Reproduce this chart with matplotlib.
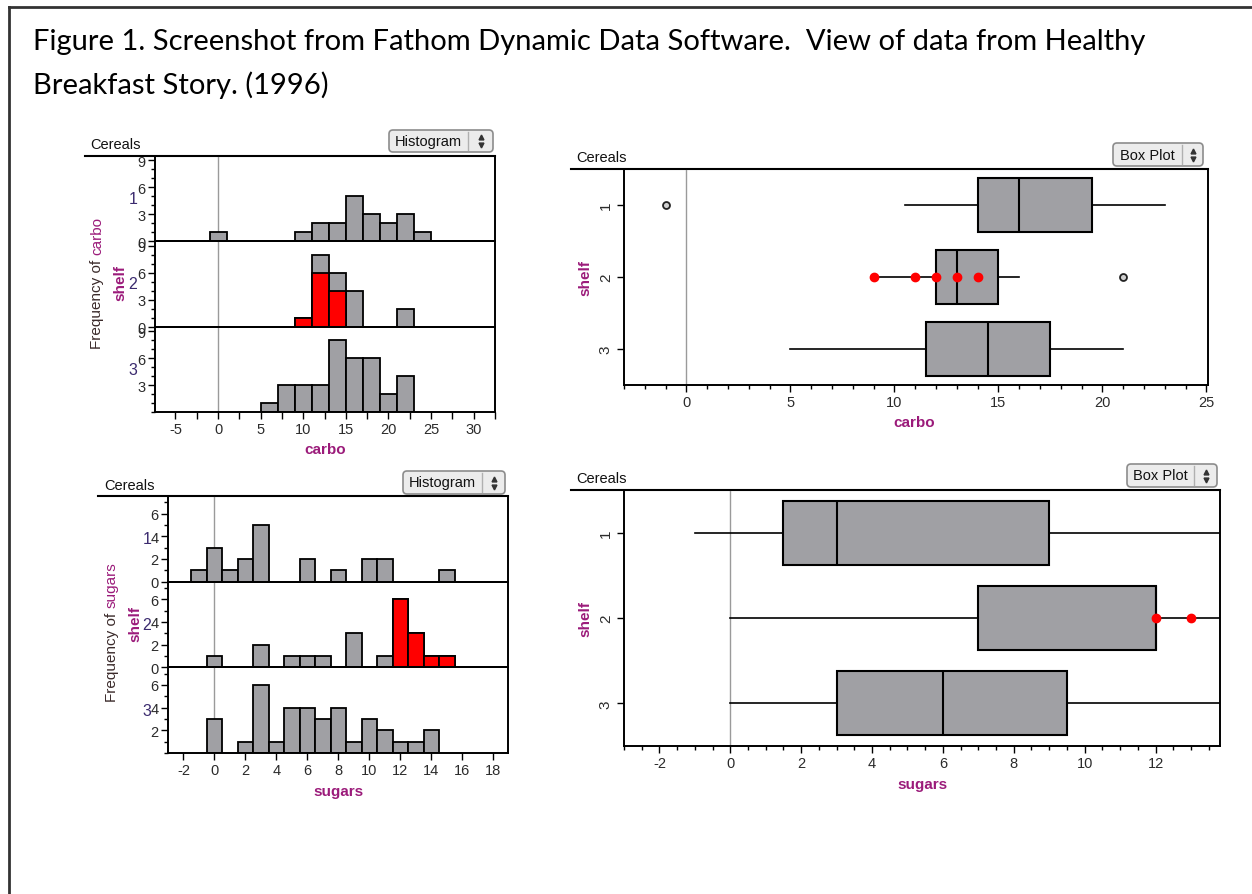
import numpy as np
import matplotlib
matplotlib.use("Agg")
import matplotlib.pyplot as plt
from matplotlib.patches import FancyBboxPatch
from matplotlib.ticker import MultipleLocator, FixedLocator

W, H = 1252, 895

shelves = ["1", "2", "3"]

# carbo histogram: bins of width 2 centred on even values
carbo_bins = [0, 6, 8, 10, 12, 14, 16, 18, 20, 22, 24]
carbo_counts_1 = [1, 0, 0, 1, 2, 2, 5, 3, 2, 3, 1]
carbo_counts_2 = [0, 0, 0, 1, 8, 6, 4, 0, 0, 2, 0]
carbo_counts_3 = [0, 1, 3, 3, 3, 8, 6, 6, 2, 4, 0]
carbo_selected_2 = [0, 0, 0, 1, 6, 4, 0, 0, 0, 0, 0]

# sugars histogram: bins of width 1 centred on integers
sugars_bins = list(range(-1, 16))
sugars_counts_1 = [1, 3, 1, 2, 5, 0, 0, 2, 0, 1, 0, 2, 2, 0, 0, 0, 1]
sugars_counts_2 = [0, 1, 0, 0, 2, 0, 1, 1, 1, 0, 3, 0, 1, 6, 3, 1, 1]
sugars_counts_3 = [0, 3, 0, 1, 6, 1, 4, 4, 3, 4, 1, 3, 2, 1, 1, 2, 0]
sugars_selected_2 = [0, 0, 0, 0, 0, 0, 0, 0, 0, 0, 0, 0, 0, 6, 3, 1, 1]

# box plot summaries per shelf
carbo_q1 = [14, 12, 11.5]
carbo_med = [16, 13, 14.5]
carbo_q3 = [19.5, 15, 17.5]
carbo_lo = [10.5, 9, 5]
carbo_hi = [23, 16, 21]
carbo_out = [[-1], [21], []]
carbo_sel = [9, 11, 12, 13, 14]

sugars_q1 = [1.5, 7, 3]
sugars_med = [3, 12, 6]
sugars_q3 = [9, 12, 9.5]
sugars_lo = [-1, 0, 0]
sugars_hi = [15, 15, 14]
sugars_out = [[], [], []]
sugars_sel = [12, 13]

GRAY = "#a0a0a4"
PURPLE = "#9b1b7a"
TICKC = "#2b2b2b"
FONT = ["Liberation Sans", "DejaVu Sans"]

plt.rcParams["font.family"] = FONT
plt.rcParams["axes.unicode_minus"] = False

fig = plt.figure(figsize=(W / 100, H / 100), dpi=100)

deco = fig.add_axes([0, 0, 1, 1])
deco.set_xlim(0, W)
deco.set_ylim(H, 0)
deco.axis("off")


def px_axes(x0, y0, x1, y1):
    return fig.add_axes([x0 / W, 1 - y1 / H, (x1 - x0) / W, (y1 - y0) / H])


def style_axes(ax):
    for s in ax.spines.values():
        s.set_linewidth(1.4)
        s.set_color("black")
    ax.tick_params(which="both", direction="out", colors="black",
                   labelcolor=TICKC, labelsize=10.5, width=1)
    ax.tick_params(which="major", length=5, pad=2)
    ax.tick_params(which="minor", length=3)


def button(x0, y0, x1, y1, xdiv, label):
    deco.add_patch(FancyBboxPatch((x0, y0), x1 - x0, y1 - y0,
                                  boxstyle="round,pad=0,rounding_size=4",
                                  fc="#ececec", ec="#8c8c8c", lw=1.2))
    deco.plot([xdiv, xdiv], [y0 + 2, y1 - 2], color="#b0b0b0", lw=1)
    deco.text((x0 + xdiv) / 2, (y0 + y1) / 2, label, ha="center",
              va="center", fontsize=10.5, color="#111")
    xa = (xdiv + x1) / 2
    deco.plot([xa], [(y0 + y1) / 2 - 4], marker="^", ms=3.5, color="#333")
    deco.plot([xa], [(y0 + y1) / 2 + 4], marker="v", ms=3.5, color="#333")


def header(x0, x1, y, tx, ty):
    deco.plot([x0, x1], [y, y], color="black", lw=1.5)
    deco.text(tx, ty, "Cereals", ha="left", va="center", fontsize=10.5,
              color="#111")


def draw_hist(x0, x1, y0, y1, bins, counts, selected, width, xlim, ylim,
              ymajor, xmajor, xminor, shelf_x, var, freq_x, split_y,
              shelf_lab_x, xlab_y):
    n = len(counts)
    ph = (y1 - y0) / n
    axes = []
    for i, cnt in enumerate(counts):
        ax = px_axes(x0, y0 + i * ph, x1, y0 + (i + 1) * ph)
        style_axes(ax)
        ax.axvline(0, color="#9a9a9a", lw=1, zorder=1)
        cnt = np.asarray(cnt)
        b = np.asarray(bins)
        keep = cnt > 0
        ax.bar(b[keep], cnt[keep], width=width, color=GRAY,
               edgecolor="black", lw=1.3, zorder=2)
        sel = selected[i]
        if sel is not None:
            sel = np.asarray(sel)
            ks = sel > 0
            ax.bar(b[ks], sel[ks], width=width, color="#ff0000",
                   edgecolor="black", lw=1.3, zorder=3)
        ax.set_xlim(*xlim)
        ax.set_ylim(*ylim)
        ticks = [t for t in ymajor if not (i == n - 1 and t == 0)]
        ax.yaxis.set_major_locator(FixedLocator(ticks))
        ax.yaxis.set_minor_locator(MultipleLocator(1))
        ax.xaxis.set_major_locator(MultipleLocator(xmajor))
        ax.xaxis.set_minor_locator(MultipleLocator(xminor))
        ax.tick_params(axis="x", which="minor", length=5)
        if i < n - 1:
            ax.tick_params(axis="x", which="both", bottom=False,
                           labelbottom=False)
        ax.text(shelf_x, 0.5, shelves[i], transform=ax.transAxes,
                ha="center", va="center", fontsize=11.5, color="#3a2a6e")
        ax.patch.set_alpha(0)
        axes.append(ax)
    deco.text(freq_x, split_y, "Frequency of ", rotation=90,
              rotation_mode="anchor", ha="right", va="center",
              fontsize=11, color="#3a2a2a")
    deco.text(freq_x, split_y, var, rotation=90, rotation_mode="anchor",
              ha="left", va="center", fontsize=11, color=PURPLE)
    deco.text(shelf_lab_x, (y0 + y1) / 2 - 2, "shelf", rotation=90,
              ha="center", va="center", fontsize=11, color=PURPLE,
              fontweight="bold")
    deco.text((x0 + x1) / 2, xlab_y, var, ha="center", va="center",
              fontsize=11, color=PURPLE, fontweight="bold")
    return axes


def draw_box(x0, x1, y0, y1, q1, med, q3, lo, hi, out, sel, xlim, xmajor,
             xminor, var, xlab_x, xlab_y, shelf_x, width):
    ax = px_axes(x0, y0, x1, y1)
    style_axes(ax)
    ax.patch.set_alpha(0)
    ax.axvline(0, color="#9a9a9a", lw=1, zorder=0)
    pos = list(range(1, len(shelves) + 1))
    stats = [dict(q1=q1[i], med=med[i], q3=q3[i], whislo=lo[i],
                  whishi=hi[i], fliers=out[i]) for i in range(len(pos))]
    kw = dict(positions=pos, widths=width, patch_artist=True,
              showcaps=False,
              boxprops=dict(facecolor=GRAY, edgecolor="black", lw=1.5),
              medianprops=dict(color="black", lw=1.5),
              whiskerprops=dict(color="black", lw=1.2),
              flierprops=dict(marker="o", ms=5, mfc="#d0d0d0",
                              mec="#222", mew=1.3))
    try:
        ax.bxp(stats, orientation="horizontal", **kw)
    except TypeError:
        ax.bxp(stats, vert=False, **kw)
    ax.plot(sel, np.full(len(sel), pos[1]), "o", color="#ff0000", ms=6,
            zorder=5, clip_on=False)
    ax.set_xlim(*xlim)
    ax.set_ylim(len(pos) + 0.5, 0.5)
    ax.xaxis.set_major_locator(MultipleLocator(xmajor))
    ax.xaxis.set_major_formatter(plt.FuncFormatter(lambda v, p: f"{v:g}"))
    ax.xaxis.set_minor_locator(MultipleLocator(xminor))
    ax.set_yticks(pos, labels=shelves, rotation=90, va="center")
    ax.tick_params(axis="y", pad=3, labelsize=11)
    deco.text(shelf_x, (y0 + y1) / 2, "shelf", rotation=90, ha="center",
              va="center", fontsize=11, color=PURPLE, fontweight="bold")
    deco.text(xlab_x, xlab_y, var, ha="center", va="center",
              fontsize=11, color=PURPLE, fontweight="bold")
    return ax


# page frame and caption
deco.plot([9, 9], [8, H], color="#333", lw=2)
deco.plot([9, W], [8, 8], color="#333", lw=2)
deco.text(33, 42, "Figure 1. Screenshot from Fathom Dynamic Data Software."
          "  View of data from Healthy", fontsize=21, family="Lato",
          ha="left", va="center", color="black")
deco.text(33, 85, "Breakfast Story. (1996)", fontsize=21, family="Lato",
          ha="left", va="center", color="black")

# carbo histogram
header(85, 495, 157, 90, 145)
button(389, 131, 493, 153, 468, "Histogram")
draw_hist(155, 495, 157, 413, carbo_bins,
          [carbo_counts_1, carbo_counts_2, carbo_counts_3],
          [None, carbo_selected_2, None], 2, (-7.4, 32.5), (0, 9.5),
          [0, 3, 6, 9], 5, 2.5, -0.065, "carbo", 97, 255, 120, 450)

# sugars histogram
header(98, 508, 497, 104, 486)
button(403, 472, 505, 495, 482, "Histogram")
draw_hist(168, 508, 497, 754, sugars_bins,
          [sugars_counts_1, sugars_counts_2, sugars_counts_3],
          [None, sugars_selected_2, None], 1, (-3, 18.95), (0, 7.55),
          [0, 2, 4, 6], 2, 2, -0.062, "sugars", 112, 608, 135, 792)

# carbo box plot
header(571, 1208, 170, 576, 158)
button(1113, 144, 1203, 167, 1182, "Box Plot")
draw_box(624, 1208, 170, 386, carbo_q1, carbo_med, carbo_q3, carbo_lo,
         carbo_hi, carbo_out, carbo_sel, (-3, 25.08), 5, 1, "carbo",
         914, 423, 585, 0.74)

# sugars box plot
header(571, 1220, 491, 576, 479)
button(1127, 465, 1217, 488, 1194, "Box Plot")
draw_box(624, 1220, 491, 747, sugars_q1, sugars_med, sugars_q3, sugars_lo,
         sugars_hi, sugars_out, sugars_sel, (-3, 13.82), 2, 0.5, "sugars",
         922, 785, 585, 0.75)

fig.savefig("out.png", dpi=100)
